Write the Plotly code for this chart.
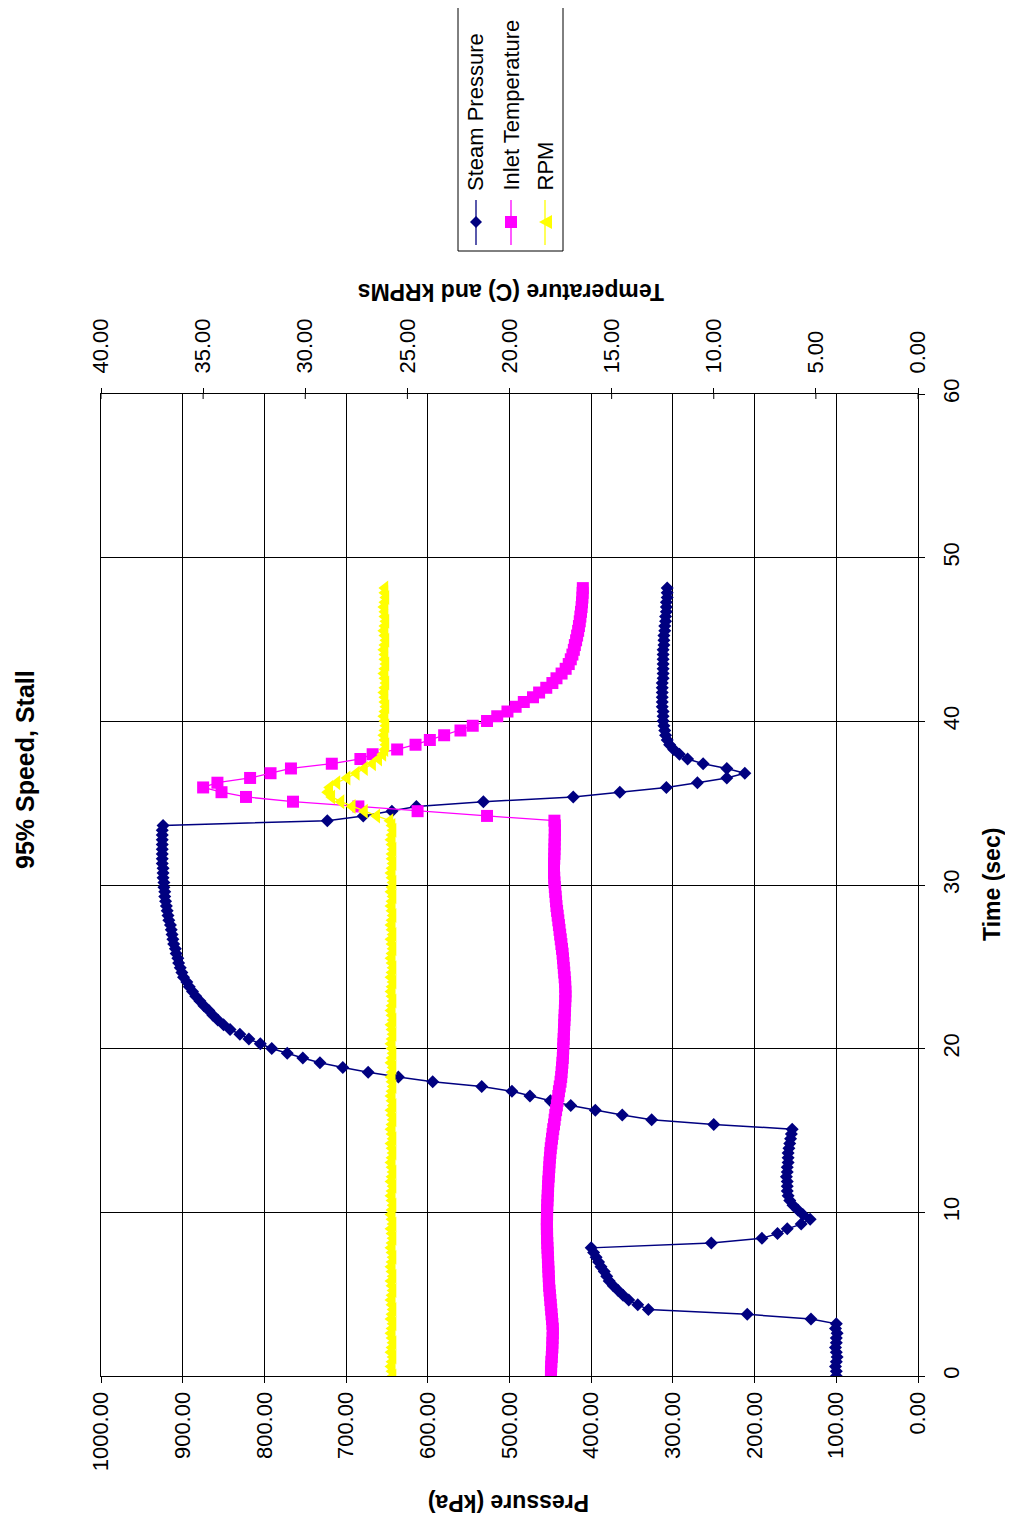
import plotly.graph_objects as go

# ---------------- data ----------------
time_s = [
    0, 0.29, 0.58, 0.87, 1.16, 1.45, 1.74, 2.03, 2.32, 2.61,
    2.9, 3.19, 3.48, 3.77, 4.06, 4.35, 4.64, 4.93, 5.22, 5.51,
    5.8, 6.09, 6.38, 6.67, 6.96, 7.25, 7.54, 7.83, 8.12, 8.41,
    8.7, 8.99, 9.28, 9.57, 9.86, 10.15, 10.44, 10.73, 11.02, 11.31,
    11.6, 11.89, 12.18, 12.47, 12.76, 13.05, 13.34, 13.63, 13.92, 14.21,
    14.5, 14.79, 15.08, 15.37, 15.66, 15.95, 16.24, 16.53, 16.82, 17.11,
    17.4, 17.69, 17.98, 18.27, 18.56, 18.85, 19.14, 19.43, 19.72, 20.01,
    20.3, 20.59, 20.88, 21.17, 21.46, 21.75, 22.04, 22.33, 22.62, 22.91,
    23.2, 23.49, 23.78, 24.07, 24.36, 24.65, 24.94, 25.23, 25.52, 25.81,
    26.1, 26.39, 26.68, 26.97, 27.26, 27.55, 27.84, 28.13, 28.42, 28.71,
    29.0, 29.29, 29.58, 29.87, 30.16, 30.45, 30.74, 31.03, 31.32, 31.61,
    31.9, 32.19, 32.48, 32.77, 33.06, 33.35, 33.64, 33.93, 34.22, 34.51,
    34.8, 35.09, 35.38, 35.67, 35.96, 36.25, 36.54, 36.83, 37.12, 37.41,
    37.7, 37.99, 38.28, 38.57, 38.86, 39.15, 39.44, 39.73, 40.02, 40.31,
    40.6, 40.89, 41.18, 41.47, 41.76, 42.05, 42.34, 42.63, 42.92, 43.21,
    43.5, 43.79, 44.08, 44.37, 44.66, 44.95, 45.24, 45.53, 45.82, 46.11,
    46.4, 46.69, 46.98, 47.27, 47.56, 47.85, 48.14,
]

steam_pressure_kpa = [
    100, 100, 101, 100, 99, 100, 101, 100, 100, 99,
    101, 100, 131, 209, 330, 343, 354, 361, 367, 373,
    378, 381, 384, 388, 391, 394, 397, 400, 253, 191,
    172, 160, 143, 132, 141, 147, 153, 157, 159, 160,
    160, 160, 161, 160, 160, 159, 159, 159, 158, 157,
    156, 155, 154, 250, 326, 362, 395, 425, 450, 475,
    497, 534, 594, 636, 673, 704, 732, 753, 772, 791,
    805, 819, 830, 842, 850, 857, 863, 868, 874, 879,
    884, 888, 892, 895, 899, 901, 903, 905, 906, 908,
    909, 911, 912, 913, 914, 915, 917, 918, 919, 920,
    921, 922, 922, 923, 923, 924, 924, 924, 925, 925,
    925, 925, 925, 925, 925, 925, 924, 723, 679, 644,
    614, 532, 422, 365, 308, 270, 234, 212, 234, 263,
    282, 292, 299, 304, 307, 309, 310, 311, 312, 312,
    312, 313, 313, 313, 313, 313, 313, 312, 312, 312,
    312, 312, 312, 312, 311, 311, 311, 310, 310, 309,
    309, 308, 308, 308, 307, 307, 307,
]

inlet_temp_c = [
    17.97, 17.97, 17.96, 17.95, 17.93, 17.92, 17.9, 17.9, 17.89, 17.88,
    17.88, 17.9, 17.92, 17.94, 17.96, 17.98, 18.0, 18.02, 18.04, 18.06,
    18.07, 18.08, 18.09, 18.1, 18.11, 18.12, 18.13, 18.14, 18.15, 18.16,
    18.16, 18.17, 18.17, 18.17, 18.16, 18.16, 18.15, 18.14, 18.13, 18.12,
    18.11, 18.1, 18.08, 18.07, 18.05, 18.04, 18.02, 18.0, 17.98, 17.95,
    17.92, 17.89, 17.86, 17.82, 17.79, 17.76, 17.72, 17.68, 17.65, 17.61,
    17.58, 17.54, 17.5, 17.47, 17.45, 17.43, 17.41, 17.39, 17.38, 17.37,
    17.36, 17.35, 17.34, 17.33, 17.32, 17.31, 17.3, 17.29, 17.28, 17.27,
    17.26, 17.26, 17.27, 17.28, 17.3, 17.32, 17.34, 17.36, 17.38, 17.4,
    17.43, 17.46, 17.49, 17.52, 17.55, 17.58, 17.61, 17.64, 17.67, 17.7,
    17.72, 17.74, 17.76, 17.78, 17.8, 17.81, 17.82, 17.82, 17.82, 17.81,
    17.8, 17.8, 17.79, 17.79, 17.78, 17.78, 17.78, 17.8, 21.1, 24.5,
    27.4, 30.6, 32.9, 34.1, 35.0, 34.3, 32.7, 31.7, 30.7, 28.7,
    27.3, 26.7, 25.5, 24.6, 23.9, 23.2, 22.4, 21.8, 21.1, 20.6,
    20.1, 19.7, 19.3, 18.85, 18.55, 18.2, 17.9, 17.7, 17.45, 17.25,
    17.1, 17.0, 16.92, 16.85, 16.8, 16.74, 16.69, 16.64, 16.6, 16.56,
    16.53, 16.5, 16.47, 16.45, 16.43, 16.42, 16.41,
]

rpm_krpm = [
    25.7, 25.75, 25.8, 25.75, 25.7, 25.8, 25.75, 25.7, 25.75, 25.8,
    25.75, 25.7, 25.8, 25.75, 25.7, 25.75, 25.8, 25.75, 25.7, 25.75,
    25.8, 25.7, 25.75, 25.8, 25.75, 25.7, 25.75, 25.8, 25.75, 25.7,
    25.75, 25.8, 25.7, 25.75, 25.8, 25.75, 25.7, 25.75, 25.8, 25.75,
    25.7, 25.8, 25.75, 25.7, 25.75, 25.8, 25.75, 25.7, 25.75, 25.8,
    25.7, 25.75, 25.8, 25.75, 25.7, 25.75, 25.8, 25.7, 25.75, 25.8,
    25.75, 25.7, 25.75, 25.8, 25.75, 25.7, 25.8, 25.75, 25.7, 25.75,
    25.8, 25.75, 25.7, 25.75, 25.8, 25.7, 25.75, 25.8, 25.75, 25.7,
    25.75, 25.8, 25.75, 25.7, 25.8, 25.75, 25.7, 25.75, 25.8, 25.75,
    25.7, 25.75, 25.8, 25.7, 25.75, 25.8, 25.75, 25.7, 25.75, 25.8,
    25.75, 25.7, 25.8, 25.75, 25.7, 25.75, 25.8, 25.75, 25.7, 25.75,
    25.75, 25.7, 25.75, 25.8, 25.75, 25.7, 25.75, 25.85, 26.5, 27.1,
    27.7, 28.25, 28.7, 28.9, 28.8, 28.45, 27.95, 27.5, 27.1, 26.7,
    26.4, 26.2, 26.1, 26.05, 26.1, 26.15, 26.1, 26.05, 26.1, 26.15,
    26.1, 26.05, 26.1, 26.1, 26.15, 26.1, 26.05, 26.1, 26.15, 26.1,
    26.05, 26.1, 26.1, 26.15, 26.1, 26.05, 26.1, 26.15, 26.1, 26.05,
    26.1, 26.1, 26.15, 26.1, 26.05, 26.1, 26.1,
]

pressure_ticks = [0, 100, 200, 300, 400, 500, 600, 700, 800, 900, 1000]
temp_ticks = [0, 5, 10, 15, 20, 25, 30, 35, 40]
time_ticks = [0, 10, 20, 30, 40, 50, 60]

series_names = ["Steam Pressure", "Inlet Temperature", "RPM"]
series_colors = ["#000080", "#FF00FF", "#FFFF00"]

# ---------------- geometry (page pixels; the page body adds an 8px offset) ----------------
OFF = 8
W, H = 1013 - 2 * OFF, 1524 - 2 * OFF
L, R, T, B = 101, 918, 394, 1376


def px(x):
    return (x - L) / (R - L)


def py(y):
    return (B - y) / (B - T)


FONT = "Liberation Sans, Arial, sans-serif"

fig = go.Figure()

fig.add_trace(go.Scatter(
    x=steam_pressure_kpa, y=time_s, mode="lines+markers", name=series_names[0],
    line=dict(color=series_colors[0], width=1.5),
    marker=dict(symbol="diamond", size=10, color=series_colors[0], line=dict(width=0)),
    xaxis="x", yaxis="y", showlegend=False,
))
fig.add_trace(go.Scatter(
    x=inlet_temp_c, y=time_s, mode="lines+markers", name=series_names[1],
    line=dict(color=series_colors[1], width=1.3),
    marker=dict(symbol="square", size=12, color=series_colors[1], line=dict(width=0)),
    xaxis="x2", yaxis="y", showlegend=False,
))
fig.add_trace(go.Scatter(
    x=rpm_krpm, y=time_s, mode="lines+markers", name=series_names[2],
    line=dict(color=series_colors[2], width=1.3),
    marker=dict(symbol="triangle-left", size=13, color=series_colors[2], line=dict(width=0)),
    xaxis="x2", yaxis="y", showlegend=False,
))

shapes = []
# inner half of the crossing ticks on the top (temperature) axis
for tv in temp_ticks:
    shapes.append(dict(type="line", xref="x2", yref="paper", x0=tv, x1=tv,
                       y0=1, y1=1 - 5 / (B - T), line=dict(color="black", width=1)))

# legend box
shapes.append(dict(type="rect", xref="paper", yref="paper",
                   x0=px(458), x1=px(563), y0=py(251), y1=py(5),
                   line=dict(color="black", width=1), fillcolor="white", layer="above"))

leg_x = [476, 511, 545]
leg_y = 222
for cx, col in zip(leg_x, series_colors):
    shapes.append(dict(type="line", xref="paper", yref="paper",
                       x0=px(cx), x1=px(cx), y0=py(245), y1=py(200),
                       line=dict(color=col, width=1.3)))
# diamond
cx = leg_x[0]
shapes.append(dict(type="path", xref="paper", yref="paper",
                   path=f"M {px(cx)} {py(leg_y-6)} L {px(cx+6)} {py(leg_y)} L {px(cx)} {py(leg_y+6)} L {px(cx-6)} {py(leg_y)} Z",
                   fillcolor=series_colors[0], line=dict(width=0)))
# square
cx = leg_x[1]
shapes.append(dict(type="rect", xref="paper", yref="paper",
                   x0=px(cx - 6), x1=px(cx + 6), y0=py(leg_y + 6), y1=py(leg_y - 6),
                   fillcolor=series_colors[1], line=dict(width=0)))
# triangle pointing left
cx = leg_x[2]
shapes.append(dict(type="path", xref="paper", yref="paper",
                   path=f"M {px(cx-6)} {py(leg_y)} L {px(cx+7)} {py(leg_y-7)} L {px(cx+7)} {py(leg_y+7)} Z",
                   fillcolor=series_colors[2], line=dict(width=0)))

annotations = [
    dict(text="<b>95% Speed, Stall</b>", x=px(25), y=py(770), textangle=-90,
         font=dict(size=25, family=FONT, color="black")),
    dict(text="<b>Time (sec)</b>", x=px(992), y=py(885), textangle=-90,
         font=dict(size=23, family=FONT, color="black")),
    dict(text="<b>Pressure (kPa)</b>", x=px(509), y=py(1503), textangle=180,
         font=dict(size=23, family=FONT, color="black")),
    dict(text="<b>Temperature (C) and kRPMs</b>", x=px(511), y=py(292), textangle=180,
         font=dict(size=23, family=FONT, color="black")),
]
for cx, name in zip(leg_x, series_names):
    annotations.append(dict(text=name, x=px(cx), y=py(193), textangle=-90,
                            xanchor="center", yanchor="bottom",
                            font=dict(size=22, family=FONT, color="black")))
for a in annotations:
    a.setdefault("xref", "paper")
    a.setdefault("yref", "paper")
    a.setdefault("showarrow", False)
    a.setdefault("xanchor", "center")
    a.setdefault("yanchor", "middle")

fig.update_layout(
    width=W, height=H, autosize=False,
    margin=dict(l=L - OFF, r=W - (R - OFF), t=T - OFF, b=H - (B - OFF), pad=0),
    paper_bgcolor="white", plot_bgcolor="white",
    showlegend=False,
    font=dict(family=FONT, size=22, color="black"),
    xaxis=dict(range=[1000, 0], tickvals=pressure_ticks, tickformat=".2f", tickangle=-90,
               ticks="outside", ticklen=6, tickcolor="black", tickwidth=1,
               showline=True, linecolor="black", linewidth=1,
               showgrid=True, gridcolor="black", gridwidth=1, zeroline=False,
               side="bottom", anchor="y", tickfont=dict(size=22)),
    xaxis2=dict(range=[40, 0], tickvals=temp_ticks, tickformat=".2f", tickangle=-90,
                ticks="outside", ticklen=5, tickcolor="black", tickwidth=1,
                overlaying="x", side="top", anchor="y", ticklabelstandoff=10,
                showline=True, linecolor="black", linewidth=1,
                showgrid=False, zeroline=False, tickfont=dict(size=22)),
    yaxis=dict(range=[0, 60], tickvals=time_ticks, tickangle=-90, side="right",
               ticks="outside", ticklen=6, tickcolor="black", tickwidth=1,
               ticklabelstandoff=8,
               showline=True, mirror=True, linecolor="black", linewidth=1,
               showgrid=True, gridcolor="black", gridwidth=1, zeroline=False,
               tickfont=dict(size=22)),
    shapes=shapes,
    annotations=annotations,
)

fig.write_html("out.html")
